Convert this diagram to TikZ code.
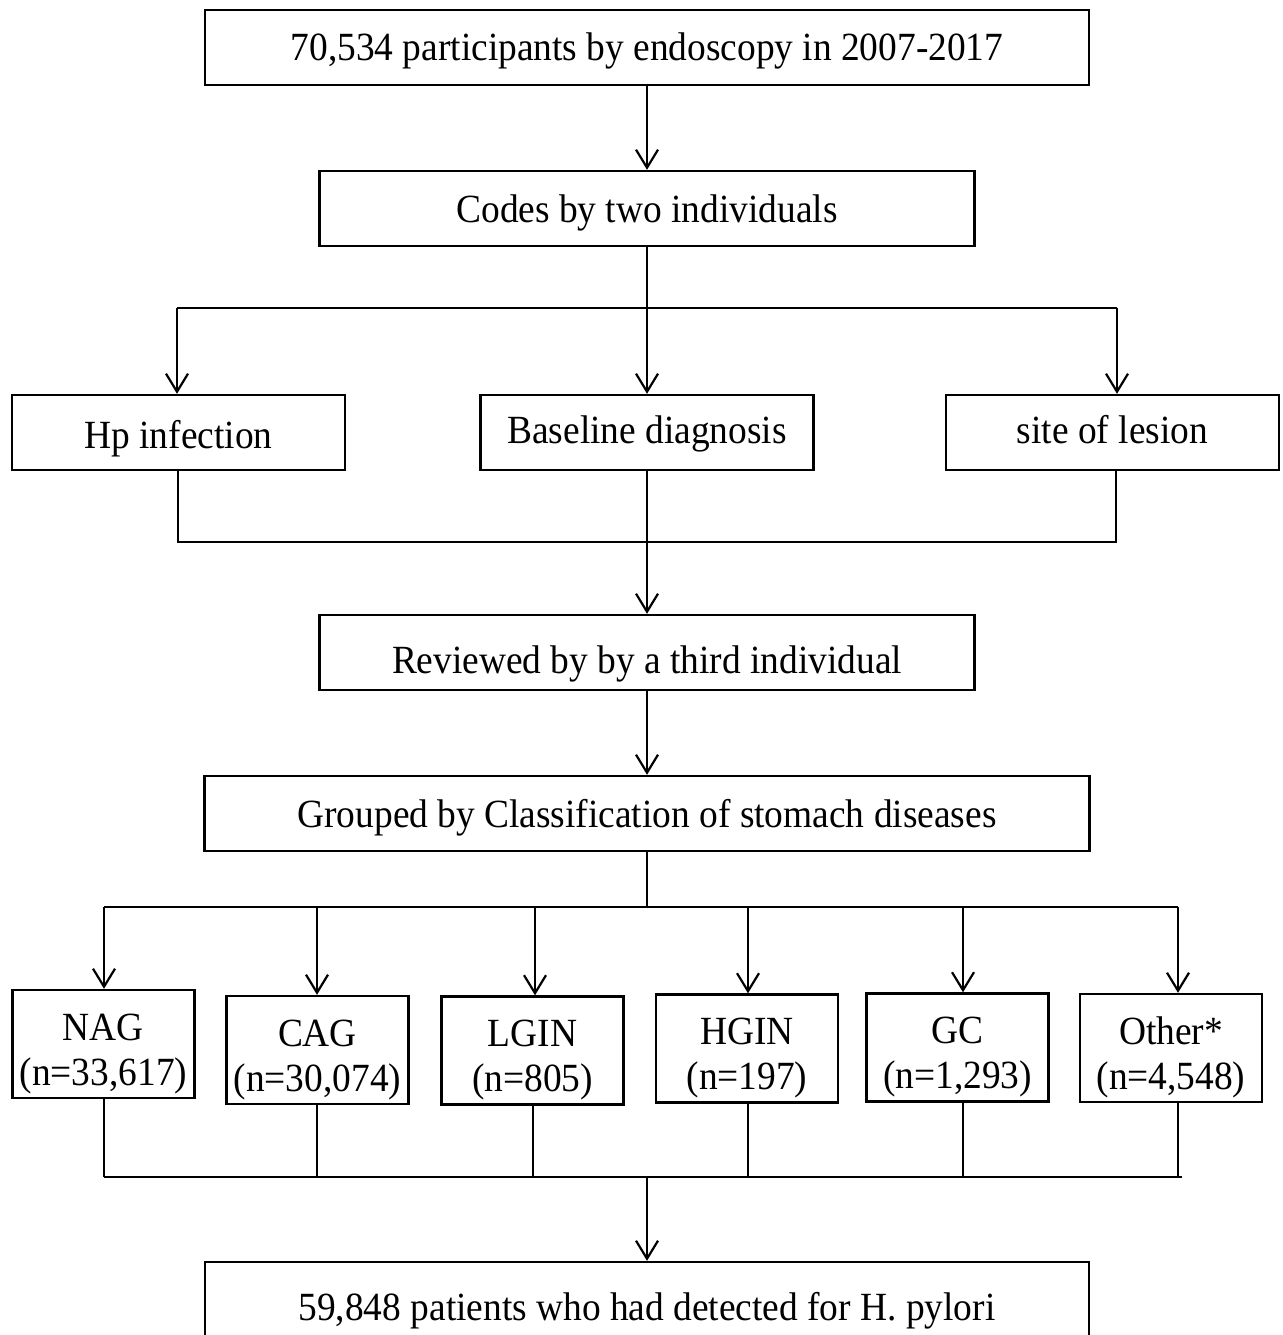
\documentclass[tikz,border=0pt]{standalone}
\usepackage{fontspec}
\setmainfont{Liberation Serif}[FakeStretch=0.935]
\usepackage{tikz}
\usetikzlibrary{positioning,arrows.meta,calc}

\begin{document}
\begin{tikzpicture}[>={Straight Barb[length=18pt,width=22pt,line width=2.2pt]},
  box/.style={draw,line width=2.4pt,minimum height=75pt,inner sep=0pt,
    text height=27pt,text depth=0pt,font=\fontsize{40}{46}\selectfont},
  sbox/.style={draw,line width=2.4pt,minimum width=182pt,minimum height=108pt,
    inner sep=0pt,font=\fontsize{40}{45}\selectfont},
  ln/.style={line width=2.2pt},
  x=1pt,y=-1pt]
\useasboundingbox (0,0) rectangle (1282,1335);
% main column
\node[box,minimum width=884pt] (start) at (647,47.5) {70,534 participants by endoscopy in 2007-2017};
\node[box,minimum width=655pt] (codes) at (647,208.5) {Codes by two individuals};
\node[box,minimum width=333pt] (hp) at (178.5,432.5) {\raisebox{-2pt}{Hp infection}};
\node[box,minimum width=333pt] (base) at (647,432.5) {\raisebox{3pt}{Baseline diagnosis}};
\node[box,minimum width=333pt] (site) at (1112.5,432.5) {\raisebox{3pt}{site of lesion}};
\node[box,minimum width=655pt] (rev) at (647,652.5) {\raisebox{-7pt}{Reviewed by by a third individual}};
\node[box,minimum width=885pt] (grp) at (647,813.5) {Grouped by Classification of stomach diseases};
\node[box,minimum width=884pt,minimum height=90pt] (final) at (647,1307) {59,848 patients who had detected for H.~pylori};
\draw[ln,->] (start) -- (codes);
% split into three
\coordinate (sl) at (177,308);
\coordinate (sr) at (1117,308);
\draw[ln] (sl) -- (sr);
\draw[ln,->] (codes) -- (base);
\draw[ln,->] (sl) -- (sl |- hp.north);
\draw[ln,->] (sr) -- (sr |- site.north);
% join
\coordinate (jl) at (178,542);
\coordinate (jr) at (1116,542);
\draw[ln] (jl |- hp.south) -- (jl) -- (jr) -- (jr |- site.south);
\draw[ln,->] (base) -- (rev);
\draw[ln,->] (rev) -- (grp);
% groups
\coordinate (gt) at (647,907);
\coordinate (gb) at (647,1177);
\draw[ln] (grp.south) -- (gt);
\draw[ln] (104,907) coordinate (gtl) -- (1178,907) coordinate (gtr);
\draw[ln] (104,1177) coordinate (gbl) -- (1182,1177) coordinate (gbr);
\foreach \nm/\cx/\cy/\ax/\bx/\lab in {nag/103.5/1044/104/104/{NAG\\(n=33,617)},
    cag/317.5/1050/317/317/{CAG\\(n=30,074)},
    lgin/532.5/1050.5/535/533/{LGIN\\(n=805)},
    hgin/747/1048.5/748/748/{HGIN\\(n=197)},
    gc/957.5/1047.5/963/963/{GC\\(n=1,293)},
    oth/1171/1048/1178/1178/{Other*\\(n=4,548)}}{
  \node[sbox] (\nm) at (\cx,\cy) {\raisebox{-16pt}[0pt][0pt]{\begin{tabular}{@{}c@{}}\lab\end{tabular}}};
  \coordinate (t\nm) at (\ax,907);
  \coordinate (u\nm) at (\bx,1177);
  \draw[ln,->] (t\nm) -- (t\nm |- \nm.north);
  \draw[ln] (u\nm |- \nm.south) -- (u\nm);
}
\draw[ln,->] (gb) -- (final.north);
\end{tikzpicture}
\end{document}
